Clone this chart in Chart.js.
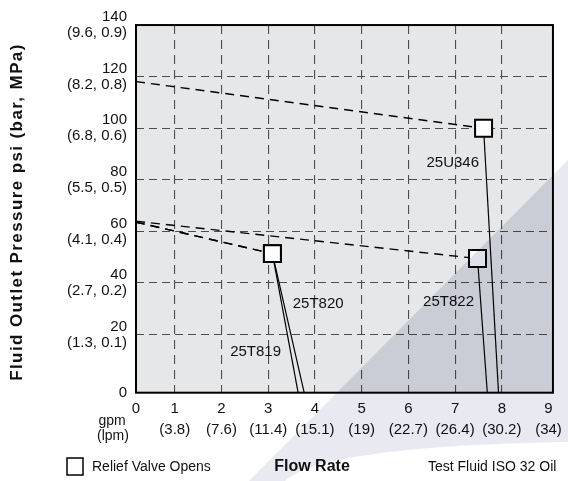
<!DOCTYPE html>
<html>
<head>
<meta charset="utf-8">
<script src="https://cdn.jsdelivr.net/npm/chart.js@4"></script>
<style>
  html, body { margin: 0; padding: 0; background: #fff; }
  #wrap { width: 568px; height: 481px; }
</style>
</head>
<body>
<div id="wrap"><canvas id="myChart" width="568" height="481"></canvas></div>
<script>
var FONT = "'Liberation Sans', Arial, Helvetica, sans-serif";

// axis ticks
const flowGpm = [1, 2, 3, 4, 5, 6, 7, 8, 9];
const flowLpm = ["(3.8)", "(7.6)", "(11.4)", "(15.1)", "(19)", "(22.7)", "(26.4)", "(30.2)", "(34)"];
const pressurePsi = [20, 40, 60, 80, 100, 120, 140];
const pressureBarMpa = ["(1.3, 0.1)", "(2.7, 0.2)", "(4.1, 0.4)", "(5.5, 0.5)", "(6.8, 0.6)", "(8.2, 0.8)", "(9.6, 0.9)"];

// the frame of the plot starts a bit past zero on both axes
const xMin = 0.17, xMax = 9.095;
const yMin = -2.5, yMax = 140;

// valves
const valveNames = ["25U346", "25T822", "25T820", "25T819"];
const startPsi = [118.5, 64.3, 64.3, 64.3];   // outlet pressure at no flow
const reliefGpm = [7.61, 7.48, 3.09, 3.09];   // relief valve opens
const reliefPsi = [100, 49.5, 51.4, 51.4];
const endGpm = [7.93, 7.69, 3.77, 3.64];      // flow where line meets the axis
const labelGpm = [6.95, 6.86, 4.07, 2.73];
const labelPsi = [86.6, 32.7, 32, 13.5];

//build datasets
var datasets = [];
datasets.push({
  label: "Relief Valve Opens",
  data: reliefGpm.map((x, i) => ({ x: x, y: reliefPsi[i] })),
  showLine: false,
  pointStyle: "rect",
  pointRadius: 12,
  pointBorderWidth: 2,
  pointBorderColor: "#000",
  pointBackgroundColor: "#fff",
  clip: false,
});
valveNames.forEach((name, i) => {
  datasets.push({
    label: name + " approach",
    data: [{ x: 0, y: startPsi[i] }, { x: reliefGpm[i], y: reliefPsi[i] }],
    showLine: true,
    borderColor: "#000",
    borderWidth: 1.4,
    borderDash: [9, 6],
    borderDashOffset: 7,
    pointRadius: 0,
  });
  datasets.push({
    label: name,
    data: [{ x: reliefGpm[i], y: reliefPsi[i] }, { x: endGpm[i], y: yMin }],
    showLine: true,
    borderColor: "#000",
    borderWidth: 1.2,
    pointRadius: 0,
  });
});

function watermarkPath(ctx) {
  ctx.beginPath();
  ctx.moveTo(568, 160);
  ctx.lineTo(249, 481);
  ctx.lineTo(285, 481);
  ctx.bezierCurveTo(305, 462, 380, 445, 568, 442);
  ctx.closePath();
}

const decorPlugin = {
  id: "decor",
  beforeDraw(chart) {
    const ctx = chart.ctx, a = chart.chartArea;
    ctx.save();
    ctx.fillStyle = "#fff";
    ctx.fillRect(0, 0, chart.width, chart.height);
    ctx.fillStyle = "#e6e7e9";
    ctx.fillRect(a.left, a.top, a.right - a.left, a.bottom - a.top);
    ctx.restore();
  },
  afterDraw(chart) {
    const ctx = chart.ctx, a = chart.chartArea;
    const xs = chart.scales.x, ys = chart.scales.y;
    ctx.save();
    //frame
    ctx.strokeStyle = "#000";
    ctx.lineWidth = 2;
    ctx.strokeRect(a.left, a.top, a.right - a.left, a.bottom - a.top);

    //valve labels
    ctx.fillStyle = "#111";
    ctx.font = "15px " + FONT;
    ctx.textAlign = "center";
    ctx.textBaseline = "middle";
    valveNames.forEach((name, i) => {
      ctx.fillText(name, xs.getPixelForValue(labelGpm[i]), ys.getPixelForValue(labelPsi[i]));
    });

    //unit labels under the axis
    ctx.font = "14px " + FONT;
    ctx.fillText("gpm", 112, 421);
    ctx.fillText("(lpm)", 113, 436);

    //legend
    ctx.fillStyle = "#fff";
    ctx.fillRect(67, 458, 16, 17);
    ctx.lineWidth = 1.5;
    ctx.strokeRect(67, 458, 16, 17);
    ctx.fillStyle = "#111";
    ctx.textAlign = "left";
    ctx.fillText("Relief Valve Opens", 92, 467);
    ctx.fillText("Test Fluid ISO 32 Oil", 428, 467);
    ctx.textAlign = "center";
    ctx.font = "bold 16px " + FONT;
    ctx.fillText("Flow Rate", 312, 467);

    //y title
    ctx.translate(17, 212);
    ctx.rotate(-Math.PI / 2);
    ctx.font = "bold 17px " + FONT;
    ctx.letterSpacing = "1.4px";
    ctx.fillText("Fluid Outlet Pressure psi (bar, MPa)", 0, 0);
    ctx.restore();

    //watermark shape over everything
    ctx.save();
    ctx.globalCompositeOperation = "multiply";
    ctx.fillStyle = "rgb(233,234,241)";
    watermarkPath(ctx);
    ctx.fill();
    ctx.beginPath();
    ctx.rect(a.left, a.top, a.right - a.left, a.bottom - a.top);
    ctx.clip();
    ctx.fillStyle = "rgb(246,246,249)";
    watermarkPath(ctx);
    ctx.fill();
    ctx.restore();
  },
};

const gridColor = "#4d4d4d";

const config = {
  type: "scatter",
  data: { datasets: datasets },
  options: {
    responsive: false,
    animation: false,
    layout: { padding: { top: 22, right: 10.7, left: 0, bottom: 0 } },
    plugins: { legend: { display: false }, tooltip: { enabled: false } },
    scales: {
      x: {
        type: "linear",
        min: xMin,
        max: xMax,
        afterBuildTicks: (scale) => {
          scale.ticks = [xMin].concat(flowGpm).map((v) => ({ value: v }));
        },
        afterFit: (scale) => { scale.height = 88.3; },
        grid: {
          drawTicks: false,
          lineWidth: 1.1,
          color: (c) => (c.tick && (c.tick.value === xMin || c.tick.value === 9) ? "rgba(0,0,0,0)" : gridColor),
        },
        border: { display: false, dash: [9, 6] },
        ticks: {
          autoSkip: false,
          maxRotation: 0,
          padding: 6,
          color: "#111",
          labelOffset: (c) => (c.index === 0 ? 4 : 0),
          font: { family: FONT, size: 15, lineHeight: 1.4 },
          callback: (v) => (v === xMin ? "0" : [String(v), flowLpm[flowGpm.indexOf(v)]]),
        },
      },
      y: {
        type: "linear",
        min: yMin,
        max: yMax,
        afterBuildTicks: (scale) => {
          scale.ticks = [yMin].concat(pressurePsi).map((v) => ({ value: v }));
        },
        afterFit: (scale) => { scale.width = 136; },
        grid: {
          drawTicks: false,
          lineWidth: 1.1,
          color: (c) => (c.tick && (c.tick.value === yMin || c.tick.value === 140) ? "rgba(0,0,0,0)" : gridColor),
        },
        border: { display: false, dash: [8, 5] },
        ticks: {
          autoSkip: false,
          padding: 9,
          color: "#111",
          font: { family: FONT, size: 15, lineHeight: 1.07 },
          callback: (v) => (v === yMin ? "0" : [String(v), pressureBarMpa[pressurePsi.indexOf(v)]]),
        },
      },
    },
  },
  plugins: [decorPlugin],
};

const myChart = new Chart(document.getElementById("myChart"), config);
</script>
</body>
</html>
